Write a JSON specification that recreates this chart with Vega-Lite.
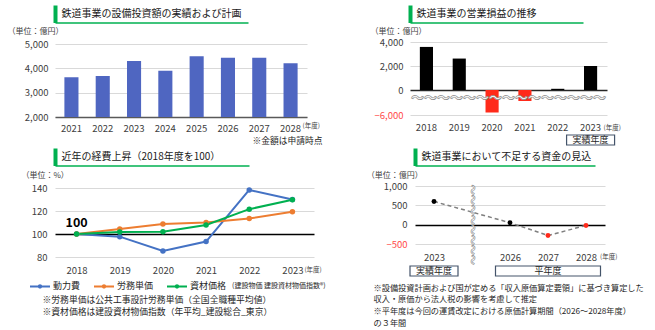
{
  "$schema": "https://vega.github.io/schema/vega-lite/v6.json",
  "padding": {"left": 7, "top": 5, "right": 0, "bottom": 0},
  "background": "#ffffff",
  "config": {
    "font": "Noto Sans CJK JP",
    "view": {"stroke": null},
    "axis": {"labelFont": "Noto Sans CJK JP", "titleFont": "Noto Sans CJK JP", "labelColor": "#404040", "titleColor": "#404040", "titleFontWeight": "normal", "labelFontSize": 9.5, "ticks": false, "domain": false, "gridColor": "#d9d9d9", "gridWidth": 1, "labelOverlap": false, "labelFlush": false},
    "text": {"font": "Noto Sans CJK JP"},
    "legend": {"labelFont": "Noto Sans CJK JP"}
  },
  "resolve": {"scale": {"color": "independent", "shape": "independent"}, "legend": {"color": "independent", "shape": "independent"}},
  "datasets": {
    "capex": [
      {"year": "2021", "value": 3630}, {"year": "2022", "value": 3690}, {"year": "2023", "value": 4300}, {"year": "2024", "value": 3900},
      {"year": "2025", "value": 4500}, {"year": "2026", "value": 4430}, {"year": "2027", "value": 4440}, {"year": "2028", "value": 4210}
    ],
    "income": [
      {"year": "2018", "value": 3590}, {"year": "2019", "value": 2620}, {"year": "2020", "value": -5400},
      {"year": "2021", "value": -2640}, {"year": "2022", "value": 100}, {"year": "2023", "value": 2000}
    ],
    "costs": [
      {"year": "2018", "series": "動力費", "value": 100}, {"year": "2019", "series": "動力費", "value": 97.7}, {"year": "2020", "series": "動力費", "value": 85.3},
      {"year": "2021", "series": "動力費", "value": 93.4}, {"year": "2022", "series": "動力費", "value": 138.3}, {"year": "2023", "series": "動力費", "value": 130},
      {"year": "2018", "series": "労務単価", "value": 100}, {"year": "2019", "series": "労務単価", "value": 104.3}, {"year": "2020", "series": "労務単価", "value": 108.7},
      {"year": "2021", "series": "労務単価", "value": 110.1}, {"year": "2022", "series": "労務単価", "value": 113.5}, {"year": "2023", "series": "労務単価", "value": 119.3},
      {"year": "2018", "series": "資材価格", "value": 100}, {"year": "2019", "series": "資材価格", "value": 101.7}, {"year": "2020", "series": "資材価格", "value": 102},
      {"year": "2021", "series": "資材価格", "value": 107.8}, {"year": "2022", "series": "資材価格", "value": 121.6}, {"year": "2023", "series": "資材価格", "value": 129.7}
    ],
    "deficit": [
      {"year": "2023", "value": 600}, {"year": "2026", "value": 50}, {"year": "2027", "value": -280}, {"year": "2028", "value": -20}
    ]
  },
  "spacing": -3,
  "vconcat": [
    {
      "spacing": 48,
      "hconcat": [
        {
          "spacing": 4,
          "vconcat": [
            {
              "width": 193, "height": 17.5,
              "data": {"values": [{"t": "鉄道事業の設備投資額の実績および計画"}]},
              "mark": {"type": "text", "align": "left", "baseline": "middle", "dx": 6.5, "fontSize": 10, "color": "#1a1a1a"},
              "encoding": {
                "text": {"field": "t"},
                "x": {"datum": 0, "type": "quantitative", "scale": {"domain": [0, 1]}, "axis": {"domain": true, "domainColor": "#00b050", "domainWidth": 1.5, "labels": false, "grid": false, "ticks": false, "title": null}},
                "y": {"datum": 0.5, "type": "quantitative", "scale": {"domain": [0, 1]}, "axis": {"domain": true, "domainColor": "#00b050", "domainWidth": 4, "labels": false, "grid": false, "ticks": false, "title": null}}
              }
            },
            {
              "width": 252, "height": 73,
              "layer": [
                {
                  "data": {"name": "capex"},
                  "mark": {"type": "bar", "color": "#4f66c1", "clip": true},
                  "encoding": {
                    "x": {"field": "year", "type": "ordinal", "scale": {"paddingInner": 0.55, "paddingOuter": 0.3},
                      "axis": {"labelAngle": 0, "labelPadding": 6, "labelOverlap": false, "domain": true, "domainColor": "#595959", "domainWidth": 1.5, "title": "※金額は申請時点", "titleAlign": "right", "titleBaseline": "middle", "titleX": 267, "titleY": 23, "titleFontSize": 8.75, "titleColor": "#262626"}},
                    "y": {"field": "value", "type": "quantitative", "scale": {"domain": [2000, 5000], "nice": false},
                      "axis": {"values": [2000, 3000, 4000, 5000], "tickCount": 10, "format": ",d", "labelOverlap": false, "labelPadding": 7, "title": "\u2002（単位：億円）", "titleAngle": 0, "titleAlign": "left", "titleBaseline": "middle", "titleX": -48, "titleY": -12.3, "titleFontSize": 8}}
                  }
                },
                {
                  "data": {"values": [{"year": "2028", "t": "(年度)"}]},
                  "mark": {"type": "text", "align": "left", "baseline": "middle", "dx": 12, "dy": 9, "fontSize": 6.5, "color": "#404040"},
                  "encoding": {"x": {"field": "year", "type": "ordinal"}, "y": {"datum": 2000}, "text": {"field": "t"}}
                }
              ]
            }
          ]
        },
        {
          "spacing": 4,
          "vconcat": [
            {
              "width": 173, "height": 17.5,
              "data": {"values": [{"t": "鉄道事業の営業損益の推移"}]},
              "mark": {"type": "text", "align": "left", "baseline": "middle", "dx": 6.5, "fontSize": 10, "color": "#1a1a1a"},
              "encoding": {
                "text": {"field": "t"},
                "x": {"datum": 0, "type": "quantitative", "scale": {"domain": [0, 1]}, "axis": {"domain": true, "domainColor": "#00b050", "domainWidth": 1.5, "labels": false, "grid": false, "ticks": false, "title": null}},
                "y": {"datum": 0.5, "type": "quantitative", "scale": {"domain": [0, 1]}, "axis": {"domain": true, "domainColor": "#00b050", "domainWidth": 4, "labels": false, "grid": false, "ticks": false, "title": null}}
              }
            },
            {
              "width": 197, "height": 73,
              "layer": [
                {
                  "data": {"name": "income"},
                  "mark": {"type": "bar"},
                  "encoding": {
                    "x": {"field": "year", "type": "ordinal", "scale": {"paddingInner": 0.6, "paddingOuter": 0.3}, "axis": {"labelAngle": 0, "labelPadding": 7, "labelOverlap": false, "title": null}},
                    "y": {"field": "value", "type": "quantitative", "scale": {"domain": [-6000, 0, 4000], "range": [73, 48, 0], "nice": false, "zero": false},
                      "axis": {"values": [-6000, 0, 2000, 4000], "tickCount": 10, "format": ",d", "labelOverlap": false, "labelPadding": 7,
                        "labelColor": {"condition": {"test": "datum.value < 0", "value": "#ff4b4b"}, "value": "#404040"},
                        "gridColor": {"condition": {"test": "datum.value === 0", "value": "#262626"}, "value": "#d9d9d9"},
                        "gridWidth": {"condition": {"test": "datum.value === 0", "value": 1.5}, "value": 1},
                        "title": "（単位：億円）", "titleAngle": 0, "titleAlign": "left", "titleBaseline": "middle", "titleX": -40, "titleY": -10.7, "titleFontSize": 8}},
                    "y2": {"datum": 0},
                    "color": {"condition": {"test": "datum.value < 0", "value": "#ff2a1a"}, "value": "#000000"}
                  }
                },
                {
                  "data": {"values": [{"year": "2020", "w": "～～～～～～～～～～～～～～～"}]},
                  "mark": {"type": "text", "align": "center", "baseline": "middle", "dx": 16.4, "fontSize": 13, "fontWeight": "bold", "fill": "#ffffff", "stroke": "#8c8c8c", "strokeWidth": 0.7},
                  "encoding": {"x": {"field": "year", "type": "ordinal"}, "y": {"datum": -2000}, "text": {"field": "w"}}
                },
                {
                  "data": {"values": [{"year": "2023", "t": "実績年度"}]},
                  "mark": {"type": "point", "shape": "M-24,20H24V30H-24Z", "size": 4, "filled": false, "fill": "#ffffff", "stroke": "#44546a", "strokeWidth": 1.2, "opacity": 1},
                  "encoding": {"x": {"field": "year", "type": "ordinal"}, "y": {"datum": -6000}}
                },
                {
                  "data": {"values": [{"year": "2023", "t": "実績年度"}]},
                  "mark": {"type": "text", "baseline": "middle", "dy": 25, "fontSize": 9, "color": "#262626"},
                  "encoding": {"x": {"field": "year", "type": "ordinal"}, "y": {"datum": -6000}, "text": {"field": "t"}}
                },
                {
                  "data": {"values": [{"year": "2023", "t": "(年度)"}]},
                  "mark": {"type": "text", "align": "left", "baseline": "middle", "dx": 13, "dy": 13, "fontSize": 6.5, "color": "#404040"},
                  "encoding": {"x": {"field": "year", "type": "ordinal"}, "y": {"datum": -6000}, "text": {"field": "t"}}
                }
              ]
            }
          ]
        }
      ]
    },
    {
      "spacing": 40,
      "resolve": {"scale": {"color": "independent", "shape": "independent"}, "legend": {"color": "independent", "shape": "independent"}},
      "hconcat": [
        {
          "spacing": 5,
          "resolve": {"scale": {"color": "independent"}, "legend": {"color": "independent"}},
          "vconcat": [
            {
              "width": 194, "height": 17.5,
              "data": {"values": [{"t": "近年の経費上昇（2018年度を100）"}]},
              "mark": {"type": "text", "align": "left", "baseline": "middle", "dx": 6.5, "fontSize": 10, "color": "#1a1a1a"},
              "encoding": {
                "text": {"field": "t"},
                "x": {"datum": 0, "type": "quantitative", "scale": {"domain": [0, 1]}, "axis": {"domain": true, "domainColor": "#00b050", "domainWidth": 1.5, "labels": false, "grid": false, "ticks": false, "title": null}},
                "y": {"datum": 0.5, "type": "quantitative", "scale": {"domain": [0, 1]}, "axis": {"domain": true, "domainColor": "#00b050", "domainWidth": 4, "labels": false, "grid": false, "ticks": false, "title": null}}
              }
            },
            {
              "width": 259, "height": 69,
              "layer": [
                {
                  "data": {"name": "costs"},
                  "mark": {"type": "line", "strokeWidth": 2, "point": {"filled": true, "size": 30}},
                  "encoding": {
                    "x": {"field": "year", "type": "ordinal", "scale": {"type": "point", "padding": 0.5},
                      "axis": {"labelAngle": 0, "labelPadding": 8, "labelOverlap": false, "title": ["※労務単価は公共工事設計労務単価（全国全職種平均値）", "※資材価格は建設資材物価指数（年平均_建設総合_東京）"], "titleAlign": "left", "titleBaseline": "top", "titleX": -13, "titleY": 38.5, "titleFontSize": 8.8, "titleLineHeight": 11.5, "titleColor": "#262626"}},
                    "y": {"field": "value", "type": "quantitative", "scale": {"domain": [80, 140], "nice": false},
                      "axis": {"values": [80, 100, 120, 140], "tickCount": 10, "labelOverlap": false, "labelPadding": 8,
                        "gridColor": {"condition": {"test": "datum.value === 100", "value": "#000000"}, "value": "#d9d9d9"},
                        "gridWidth": {"condition": {"test": "datum.value === 100", "value": 1.3}, "value": 1},
                        "title": "\u2002（単位：%）", "titleAngle": 0, "titleAlign": "left", "titleBaseline": "middle", "titleX": -34, "titleY": -12.3, "titleFontSize": 8}},
                    "color": {"field": "series", "type": "nominal", "scale": {"domain": ["動力費", "労務単価", "資材価格"], "range": ["#4472c4", "#ed7d31", "#00b050"]},
                      "legend": {"orient": "none", "legendX": -26, "legendY": 87, "direction": "horizontal", "columns": 3, "gridAlign": "each", "title": null, "symbolType": "M-1,0H1M-0.12,0A0.12,0.12,0,1,1,0.12,0A0.12,0.12,0,1,1,-0.12,0", "symbolSize": 400, "symbolStrokeWidth": 2, "labelFontSize": 9, "labelColor": "#262626", "labelOffset": 2, "columnPadding": 9}}
                  }
                },
                {
                  "data": {"values": [{"year": "2018", "t": "100"}]},
                  "mark": {"type": "text", "baseline": "middle", "dy": -11, "fontSize": 12.5, "fontWeight": "bold", "color": "#000000"},
                  "encoding": {"x": {"field": "year", "type": "ordinal"}, "y": {"datum": 100}, "text": {"field": "t"}}
                },
                {
                  "data": {"values": [{"year": "2021", "t": "(建設物価 建設資材物価指数®)"}]},
                  "mark": {"type": "text", "align": "left", "baseline": "middle", "dx": 26, "fontSize": 7, "color": "#262626"},
                  "encoding": {"x": {"field": "year", "type": "ordinal"}, "y": {"datum": 54.8}, "text": {"field": "t"}}
                },
                {
                  "data": {"values": [{"year": "2023", "t": "(年度)"}]},
                  "mark": {"type": "text", "align": "left", "baseline": "middle", "dx": 12, "dy": 13, "fontSize": 6.5, "color": "#404040"},
                  "encoding": {"x": {"field": "year", "type": "ordinal"}, "y": {"datum": 80}, "text": {"field": "t"}}
                }
              ]
            }
          ]
        },
        {
          "spacing": 5,
          "vconcat": [
            {
              "width": 180, "height": 17.5,
              "data": {"values": [{"t": "鉄道事業において不足する資金の見込"}]},
              "mark": {"type": "text", "align": "left", "baseline": "middle", "dx": 6.5, "fontSize": 10, "color": "#1a1a1a"},
              "encoding": {
                "text": {"field": "t"},
                "x": {"datum": 0, "type": "quantitative", "scale": {"domain": [0, 1]}, "axis": {"domain": true, "domainColor": "#00b050", "domainWidth": 1.5, "labels": false, "grid": false, "ticks": false, "title": null}},
                "y": {"datum": 0.5, "type": "quantitative", "scale": {"domain": [0, 1]}, "axis": {"domain": true, "domainColor": "#00b050", "domainWidth": 4, "labels": false, "grid": false, "ticks": false, "title": null}}
              }
            },
            {
              "width": 190, "height": 58,
              "layer": [
                {
                  "data": {"name": "deficit"},
                  "mark": {"type": "line", "color": "#7f7f7f", "strokeDash": [4, 3], "strokeWidth": 1.5},
                  "encoding": {
                    "x": {"field": "year", "type": "ordinal", "scale": {"type": "point", "padding": 0.5, "domain": ["2023", "gap", "2026", "2027", "2028"]},
                      "axis": {"labelAngle": 0, "labelPadding": 8, "labelOverlap": false, "labelExpr": "datum.value == 'gap' ? '' : datum.value",
                        "title": ["※設備投資計画および国が定める「収入原価算定要領」に基づき算定した", "　収入・原価から法人税の影響を考慮して推定", "※平年度は今回の運賃改定における原価計算期間（2026～2028年度）", "　の３年間"],
                        "titleAlign": "left", "titleBaseline": "top", "titleX": -42, "titleY": 40, "titleFontSize": 8.2, "titleLineHeight": 11.7, "titleColor": "#262626"}},
                    "y": {"field": "value", "type": "quantitative", "scale": {"domain": [-500, 1000], "nice": false},
                      "axis": {"values": [-500, 0, 500, 1000], "tickCount": 10, "format": ",d", "labelOverlap": false, "labelPadding": 8,
                        "labelColor": {"condition": {"test": "datum.value < 0", "value": "#ff4b4b"}, "value": "#404040"},
                        "gridColor": {"condition": {"test": "datum.value === 0", "value": "#000000"}, "value": "#d9d9d9"},
                        "gridWidth": {"condition": {"test": "datum.value === 0", "value": 1.5}, "value": 1},
                        "title": "（単位：億円）", "titleAngle": 0, "titleAlign": "left", "titleBaseline": "middle", "titleX": -48.7, "titleY": -11, "titleFontSize": 8}}
                  }
                },
                {
                  "data": {"name": "deficit"},
                  "mark": {"type": "circle", "size": 24, "opacity": 1},
                  "encoding": {
                    "x": {"field": "year", "type": "ordinal"},
                    "y": {"field": "value", "type": "quantitative"},
                    "color": {"condition": {"test": "datum.value < 0", "value": "#ff2a1a"}, "value": "#000000"}
                  }
                },
                {
                  "data": {"values": [{"year": "gap", "w": "～～～～～～～～"}]},
                  "mark": {"type": "text", "angle": 90, "align": "center", "baseline": "middle", "fontSize": 10, "fontWeight": "bold", "fill": "#ffffff", "stroke": "#8c8c8c", "strokeWidth": 0.6},
                  "encoding": {"x": {"field": "year", "type": "ordinal"}, "y": {"datum": 0}, "text": {"field": "w"}}
                },
                {
                  "data": {"values": [{"year": "2023", "t": "実績年度"}, {"year": "2027", "t": "平年度"}]},
                  "mark": {"type": "point", "size": 4, "filled": false, "fill": "#ffffff", "stroke": "#44546a", "strokeWidth": 1.2, "opacity": 1},
                  "encoding": {
                    "x": {"field": "year", "type": "ordinal"},
                    "y": {"datum": -500},
                    "shape": {"field": "t", "type": "nominal", "scale": {"domain": ["実績年度", "平年度"], "range": ["M-24,22H24V32H-24Z", "M-52.5,22H52.5V32H-52.5Z"]}, "legend": null}
                  }
                },
                {
                  "data": {"values": [{"year": "2023", "t": "実績年度"}, {"year": "2027", "t": "平年度"}]},
                  "mark": {"type": "text", "baseline": "middle", "dy": 27, "fontSize": 9, "color": "#262626"},
                  "encoding": {"x": {"field": "year", "type": "ordinal"}, "y": {"datum": -500}, "text": {"field": "t"}}
                },
                {
                  "data": {"values": [{"year": "2028", "t": "(年度)"}]},
                  "mark": {"type": "text", "align": "left", "baseline": "middle", "dx": 14, "dy": 13, "fontSize": 6.5, "color": "#404040"},
                  "encoding": {"x": {"field": "year", "type": "ordinal"}, "y": {"datum": -500}, "text": {"field": "t"}}
                }
              ]
            }
          ]
        }
      ]
    }
  ]
}
